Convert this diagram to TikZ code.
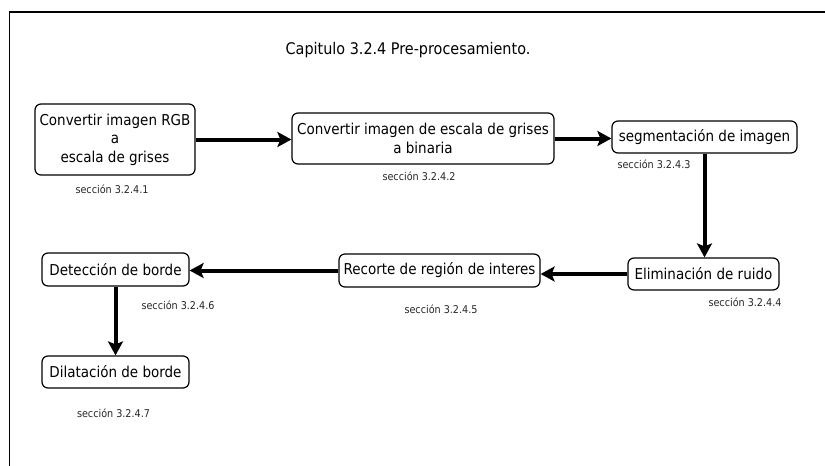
\documentclass[tikz,border=0pt]{standalone}
\usepackage{fontspec}
\setmainfont{DejaVu Sans Condensed}
\usetikzlibrary{arrows.meta}

\tikzset{
  stepbox/.style={draw=black, line width=1.2pt, rounded corners=6pt, fill=white,
    inner sep=0pt, align=center, font=\fontsize{15}{18.5}\selectfont},
  seclabel/.style={inner sep=0pt, font=\fontsize{10.7}{12}\selectfont, text=black!85},
  flow/.style={line width=4pt, -{Stealth[length=14pt, width=15pt, inset=3pt]}},
}

\begin{document}
\begin{tikzpicture}[x=1pt, y=-1pt]
  \useasboundingbox (0,0) rectangle (825,466);
  \fill[white] (0,0) rectangle (825,466);

  % outer frame (open to the right and bottom)
  \draw[line width=1.3pt] (9.5,466) -- (9.5,12) -- (825,12);

  % title
  \node[inner sep=0pt, font=\fontsize{16}{19}\selectfont] (title) at (408,50) {Capitulo 3.2.4 Pre-procesamiento.};

  % process steps
  \node[stepbox, minimum width=160pt, minimum height=71pt] (gris) at (115,139.5)
    {Convertir imagen RGB\\a\\escala de grises};
  \node[stepbox, minimum width=262pt, minimum height=51pt] (bin) at (423,138.5)
    {Convertir imagen de escala de grises\\a binaria};
  \node[stepbox, minimum width=185pt, minimum height=32pt] (seg) at (704.5,137)
    {segmentación de imagen};
  \node[stepbox, minimum width=151pt, minimum height=32pt] (ruido) at (703.5,274)
    {Eliminación de ruido};
  \node[stepbox, minimum width=201pt, minimum height=33pt] (roi) at (439.5,270.5)
    {Recorte de región de interes};
  \node[stepbox, minimum width=147pt, minimum height=33pt] (borde) at (115.5,269.5)
    {Detección de borde};
  \node[stepbox, minimum width=147pt, minimum height=32pt] (dilat) at (115.5,372)
    {Dilatación de borde};

  % section references
  \node[seclabel] (s1) at (112,189) {sección 3.2.4.1};
  \node[seclabel] (s2) at (419,176) {sección 3.2.4.2};
  \node[seclabel] (s3) at (654,164) {sección 3.2.4.3};
  \node[seclabel] (s4) at (745,302) {sección 3.2.4.4};
  \node[seclabel] (s5) at (441,309) {sección 3.2.4.5};
  \node[seclabel] (s6) at (178,305) {sección 3.2.4.6};
  \node[seclabel] (s7) at (113.5,413) {sección 3.2.4.7};

  % connectors
  \draw[flow] (gris.east) -- (bin.west |- gris.east);
  \draw[flow] (bin.east) -- (seg.west |- bin.east);
  \draw[flow] (seg.south) -- (seg.south |- ruido.north);
  \draw[flow] (ruido.west) -- (roi.east |- ruido.west);
  \draw[flow] (roi.west) -- (borde.east |- roi.west);
  \draw[flow] (borde.south) -- (borde.south |- dilat.north);
\end{tikzpicture}
\end{document}
